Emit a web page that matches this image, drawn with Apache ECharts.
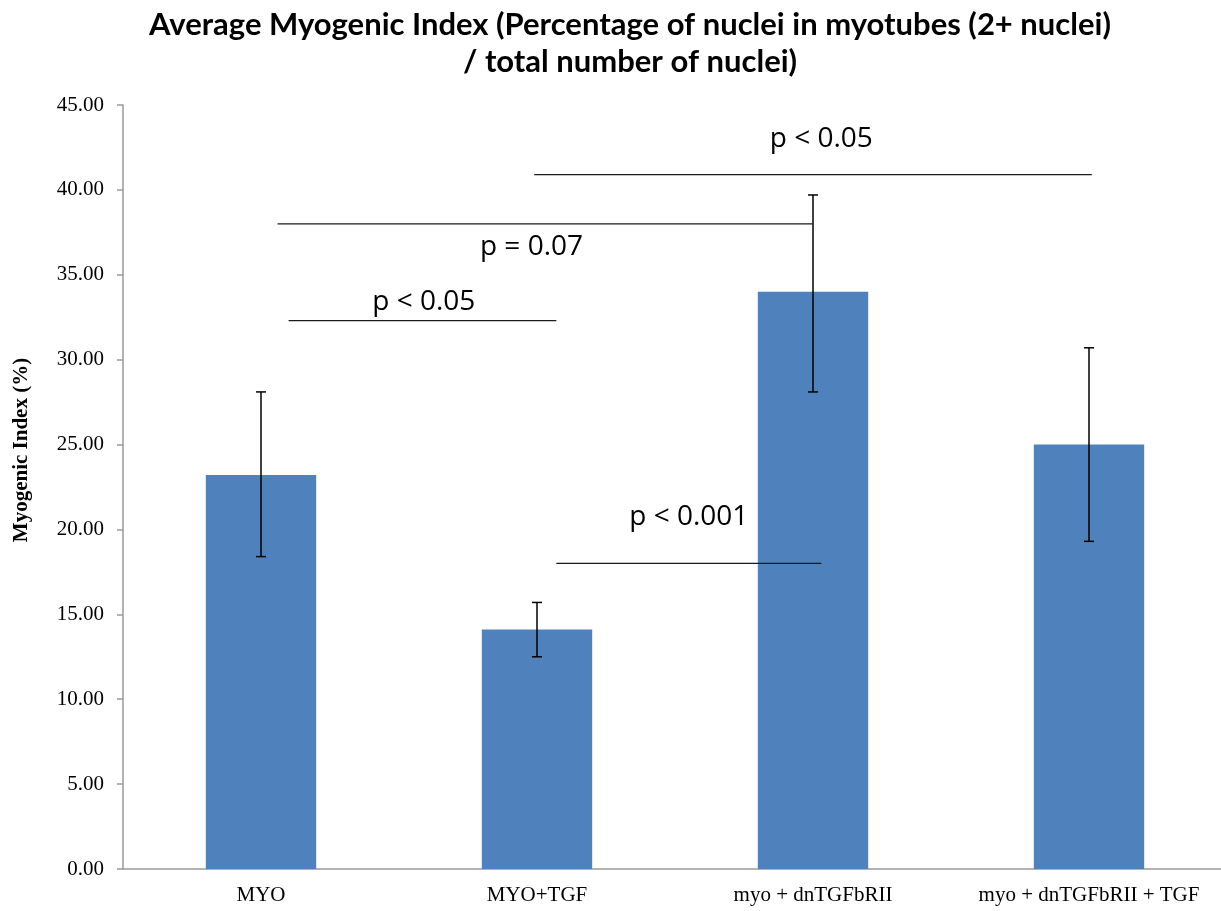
<!DOCTYPE html>
<html>
<head>
<meta charset="utf-8">
<script src="https://cdn.jsdelivr.net/npm/echarts@6/dist/echarts.min.js"></script>
<style>
  html, body { margin: 0; padding: 0; background: #ffffff; }
  #chart { width: 1221px; height: 911px; }
</style>
</head>
<body>
<div id="chart"></div>
<script>
// Groups on the x axis
const categories = ['MYO', 'MYO+TGF', 'myo + dnTGFbRII', 'myo + dnTGFbRII + TGF'];
// Mean myogenic index (%) per group
const meanIndex = [23.2, 14.1, 34.0, 25.0];
// Error bar ends (%)
const errorHigh = [28.1, 15.7, 39.7, 30.7];
const errorLow = [18.4, 12.5, 28.1, 19.3];
// Y axis ticks
const yTicks = [0, 5, 10, 15, 20, 25, 30, 35, 40, 45];

// Pairwise comparisons: span in category units, bar height (%) and p-value text
const compFrom = [0.99, 0.06, 0.10, 1.07];
const compTo = [3.01, 2.00, 1.07, 2.03];
const compLevel = [40.9, 38.0, 32.3, 18.0];
const compText = ['p < 0.05', 'p = 0.07', 'p < 0.05', 'p < 0.001'];
// Where each p-value text sits (category units, %)
const compTextX = [2.03, 0.98, 0.59, 1.55];
const compTextY = [43.0, 36.65, 33.4, 20.75];

const chart = echarts.init(document.getElementById('chart'), null, { renderer: 'canvas' });

const axisGray = '#9a9a9a';
const serif = '"Liberation Serif", "Times New Roman", serif';
const sans = '"Open Sans", "Noto Sans", sans-serif';

const comparisonData = compText.map((t, i) => [compFrom[i], compTo[i], compLevel[i], compTextX[i], compTextY[i], t]);
const errorData = categories.map((c, i) => [i, errorLow[i], errorHigh[i]]);

const option = {
  backgroundColor: '#ffffff',
  animation: false,
  title: {
    text: 'Average Myogenic Index (Percentage of nuclei in myotubes (2+ nuclei)\n/ total number of nuclei)',
    left: 625,
    top: 1,
    textAlign: 'center',
    textStyle: {
      fontFamily: 'Lato, sans-serif',
      fontWeight: 'bold',
      fontSize: 31,
      lineHeight: 37,
      color: '#000000'
    }
  },
  grid: { left: 123, width: 1104, top: 105, bottom: 42, containLabel: false, outerBoundsMode: 'none' },
  xAxis: [
    {
      type: 'category',
      data: categories,
      axisLine: { lineStyle: { color: axisGray, width: 1.5 } },
      axisTick: { show: false },
      axisLabel: { color: '#000000', fontFamily: serif, fontSize: 21, margin: 16, interval: 0 }
    },
    {
      type: 'value',
      min: -0.5,
      max: 3.5,
      show: false
    }
  ],
  yAxis: {
    type: 'value',
    min: yTicks[0],
    max: yTicks[yTicks.length - 1],
    interval: yTicks[1] - yTicks[0],
    name: 'Myogenic Index (%)',
    nameLocation: 'middle',
    nameGap: 91,
    nameTextStyle: {
      fontFamily: serif,
      fontWeight: 'bold',
      fontSize: 21,
      color: '#000000',
      padding: [0, 0, 0, 74]
    },
    axisLine: { show: true, onZero: false, lineStyle: { color: axisGray, width: 1.5 } },
    axisTick: { show: true, length: 6, lineStyle: { color: axisGray, width: 1.5 } },
    splitLine: { show: false },
    axisLabel: {
      color: '#000000',
      fontFamily: serif,
      fontSize: 21,
      margin: 19,
      formatter: v => v.toFixed(2)
    }
  },
  series: [
    {
      type: 'bar',
      data: meanIndex,
      barWidth: '40%',
      itemStyle: { color: '#4f81bd' },
      z: 2
    },
    {
      type: 'custom',
      data: errorData,
      z: 3,
      renderItem: function (params, api) {
        const x = api.value(0);
        const lo = api.coord([x, api.value(1)]);
        const hi = api.coord([x, api.value(2)]);
        const cap = 5;
        const style = { stroke: '#000000', lineWidth: 1.5 };
        return {
          type: 'group',
          children: [
            { type: 'line', shape: { x1: hi[0], y1: hi[1], x2: lo[0], y2: lo[1] }, style },
            { type: 'line', shape: { x1: hi[0] - cap, y1: hi[1], x2: hi[0] + cap, y2: hi[1] }, style },
            { type: 'line', shape: { x1: lo[0] - cap, y1: lo[1], x2: lo[0] + cap, y2: lo[1] }, style }
          ]
        };
      }
    },
    {
      type: 'custom',
      xAxisIndex: 1,
      data: comparisonData,
      z: 4,
      renderItem: function (params, api) {
        const a = api.coord([api.value(0), api.value(2)]);
        const b = api.coord([api.value(1), api.value(2)]);
        const t = api.coord([api.value(3), api.value(4)]);
        const label = comparisonData[params.dataIndex][5];
        return {
          type: 'group',
          children: [
            { type: 'line', shape: { x1: a[0], y1: a[1], x2: b[0], y2: b[1] }, style: { stroke: '#1a1a1a', lineWidth: 1.4 } },
            {
              type: 'text',
              x: t[0],
              y: t[1],
              style: {
                text: label,
                fill: '#000000',
                font: '28px ' + sans,
                textAlign: 'center',
                textVerticalAlign: 'middle'
              }
            }
          ]
        };
      }
    }
  ]
};

chart.setOption(option);
</script>
</body>
</html>
